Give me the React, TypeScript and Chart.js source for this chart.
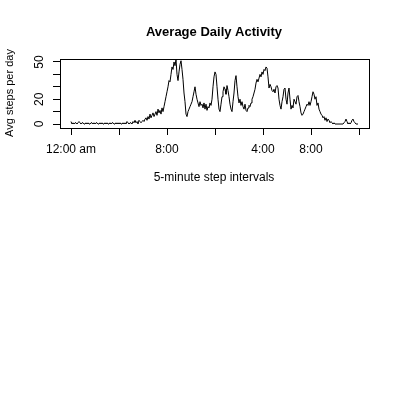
import React, { useEffect, useRef } from 'react';
import Chart from 'chart.js/auto';

// average steps per 5-minute interval, one row per hour (12 intervals each)
const hourlySteps: number[][] = [
  [2, 0, 1, 0, 1, 1, 0, 1, 2, 1, 0, 1],
  [1, 0, 0, 1, 0, 1, 0, 0, 1, 1, 0, 1],
  [0, 1, 1, 0, 0, 1, 0, 1, 0, 0, 1, 0],
  [1, 0, 0, 1, 0, 1, 1, 0, 0, 1, 0, 1],
  [0, 1, 0, 0, 1, 0, 1, 0, 2, 1, 0, 1],
  [1, 0, 2, 1, 3, 1, 2, 0, 3, 2, 1, 2],
  [3, 2, 4, 5, 3, 6, 4, 8, 5, 7, 9, 6],
  [8, 10, 7, 12, 9, 11, 8, 13, 10, 14, 18, 22],
  [26, 30, 35, 34, 40, 46, 44, 50, 47, 52, 40, 35],
  [42, 48, 51, 44, 36, 25, 18, 8, 6, 10, 12, 14],
  [16, 18, 22, 26, 30, 24, 20, 17, 14, 18, 15, 16],
  [13, 17, 12, 16, 11, 14, 13, 17, 15, 20, 30, 38],
  [42, 40, 30, 20, 12, 10, 16, 22, 26, 30, 28, 24],
  [31, 27, 22, 16, 12, 10, 18, 25, 35, 39, 30, 22],
  [17, 20, 15, 18, 14, 12, 16, 11, 10, 13, 15, 14],
  [17, 20, 22, 25, 28, 33, 36, 34, 37, 40, 38, 42],
  [40, 44, 43, 46, 45, 38, 29, 32, 30, 27, 26, 28],
  [25, 30, 31, 29, 20, 15, 12, 18, 22, 28, 29, 20],
  [16, 25, 29, 20, 12, 15, 13, 20, 18, 16, 22, 23],
  [18, 14, 9, 7, 8, 10, 12, 14, 16, 15, 18, 15],
  [18, 22, 26, 24, 20, 22, 15, 17, 12, 10, 8, 7],
  [5, 6, 3, 5, 2, 4, 3, 1, 2, 1, 0, 1],
  [0, 0, 0, 0, 0, 0, 0, 0, 0, 1, 2, 4],
  [2, 0, 1, 0, 1, 3, 4, 2, 1, 0, 0, 0],
];
const steps = hourlySteps.flat();

const xTicks = [0, 48, 96, 144, 192, 240, 288];
const xTickLabels = ['12:00 am', '', '8:00', '', '4:00', '8:00', ''];
const yTicks = [0, 10, 20, 30, 40, 50];
const yTickLabels = ['0', '', '20', '', '', '50'];

const FONT = '"Liberation Sans", Arial, sans-serif';

const textPlugin = {
  id: 'rtext',
  afterDraw(chart: any) {
    const { ctx, chartArea: a, scales } = chart;
    ctx.save();
    ctx.strokeStyle = '#000';
    ctx.lineWidth = 1;
    ctx.strokeRect(a.left + 0.5, a.top + 0.5, a.right - a.left, a.bottom - a.top);
    ctx.fillStyle = '#000';
    ctx.textAlign = 'center';
    ctx.textBaseline = 'middle';
    ctx.font = `bold 13px ${FONT}`;
    ctx.fillText('Average Daily Activity', 214, 32);
    ctx.font = `12px ${FONT}`;
    ctx.fillText('5-minute step intervals', 214, 178);
    xTicks.forEach((t, i) => {
      if (xTickLabels[i]) ctx.fillText(xTickLabels[i], scales.x.getPixelForValue(t), 150);
    });
    yTicks.forEach((t, i) => {
      if (!yTickLabels[i]) return;
      ctx.save();
      ctx.translate(40, scales.y.getPixelForValue(t));
      ctx.rotate(-Math.PI / 2);
      ctx.fillText(yTickLabels[i], 0, 0);
      ctx.restore();
    });
    ctx.save();
    ctx.translate(10, 93);
    ctx.rotate(-Math.PI / 2);
    ctx.font = `11px ${FONT}`;
    ctx.fillText('Avg steps per day', 0, 0);
    ctx.restore();
    ctx.restore();
  },
};

const App: React.FC = () => {
  const chartRef = useRef<HTMLCanvasElement | null>(null);

  useEffect(() => {
    const ctx = chartRef.current?.getContext('2d');
    if (!ctx) return;
    const chart = new Chart(ctx, {
      type: 'line',
      data: {
        datasets: [
          {
            data: steps.map((v, i) => ({ x: i, y: v })),
            borderColor: '#000',
            borderWidth: 1,
            pointRadius: 0,
            tension: 0,
          },
        ],
      },
      options: {
        animation: false,
        responsive: false,
        devicePixelRatio: 1,
        layout: { padding: { top: 59, right: 31, bottom: 212, left: 0 } },
        plugins: { legend: { display: false }, tooltip: { enabled: false } },
        scales: {
          x: {
            type: 'linear',
            min: -11,
            max: 298,
            afterBuildTicks: (s: any) => {
              s.ticks = xTicks.map((v) => ({ value: v }));
            },
            afterFit: (s: any) => {
              s.height = 60;
            },
            ticks: { display: false },
            border: { display: false },
            grid: { drawOnChartArea: false, color: '#000', tickLength: 7 },
          },
          y: {
            min: -3.2,
            max: 52.4,
            afterBuildTicks: (s: any) => {
              s.ticks = yTicks.map((v) => ({ value: v }));
            },
            afterFit: (s: any) => {
              s.width = 60;
            },
            ticks: { display: false },
            border: { display: false },
            grid: { drawOnChartArea: false, color: '#000', tickLength: 7 },
          },
        },
      },
      plugins: [textPlugin],
    });
    return () => chart.destroy();
  }, []);

  return (
    <div style={{ position: 'fixed', left: 0, top: 0, width: 400, height: 400, background: '#fff' }}>
      <canvas ref={chartRef} width={400} height={400} />
    </div>
  );
};

export default App;
